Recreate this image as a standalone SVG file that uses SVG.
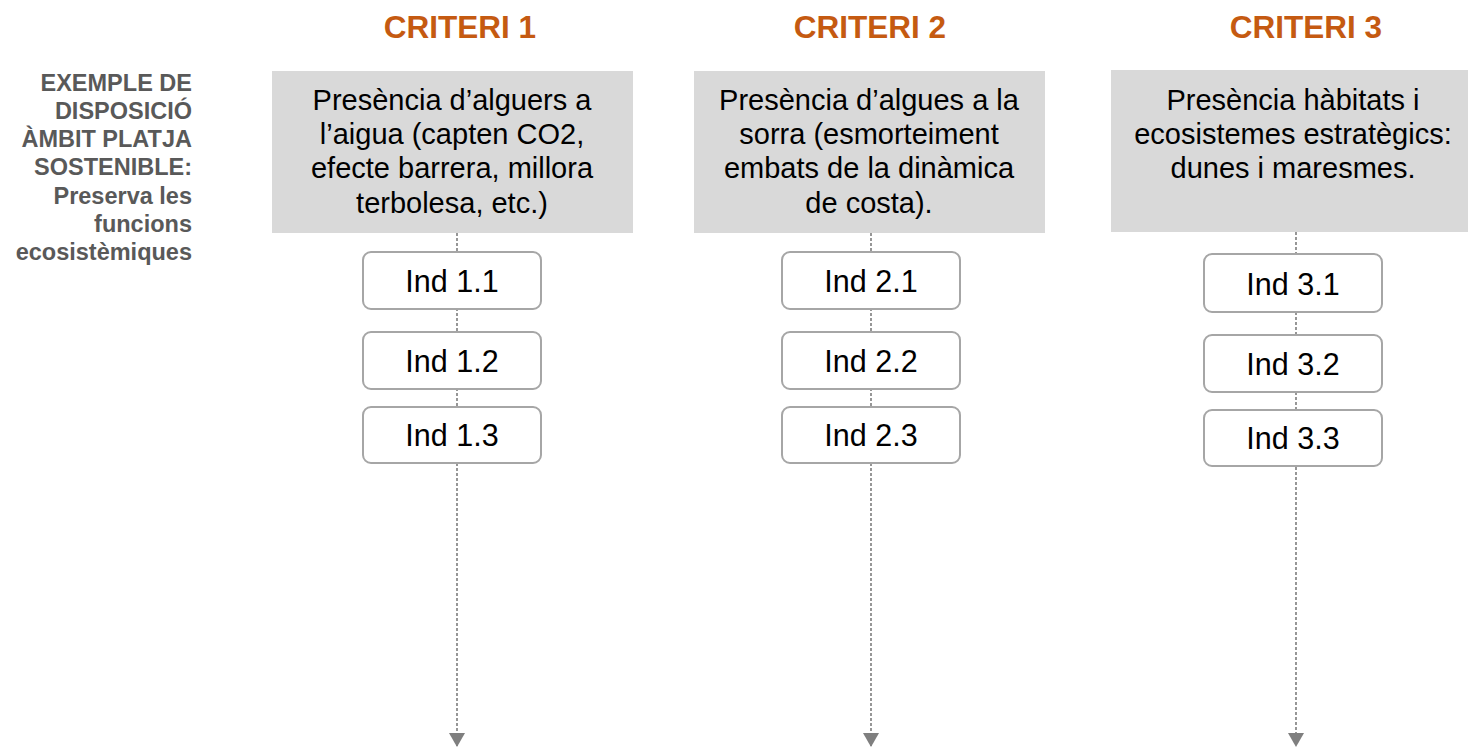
<svg xmlns="http://www.w3.org/2000/svg" width="1468" height="747" viewBox="0 0 1468 747">
<style>
.title{font-family:"Liberation Sans",Arial,sans-serif;font-weight:bold;font-size:31.5px;fill:#C55A11;text-anchor:middle}
.side{font-family:"Liberation Sans",Arial,sans-serif;font-weight:bold;font-size:23.5px;fill:#595959;text-anchor:end}
.crit{fill:#D9D9D9}
.ctext{font-family:"Liberation Sans",Arial,sans-serif;font-size:29px;fill:#000;text-anchor:middle}
.ind{fill:#fff;stroke:#A6A6A6;stroke-width:2}
.itext{font-family:"Liberation Sans",Arial,sans-serif;font-size:30.5px;fill:#000;text-anchor:middle}
.conn{stroke:#8C8C8C;stroke-width:1.8;stroke-dasharray:3 2;fill:none}
</style>
<defs>
<marker id="arr" viewBox="0 0 14 16" refX="14" refY="8" markerWidth="14" markerHeight="16" markerUnits="userSpaceOnUse" orient="auto">
<path d="M0,0 L14,8 L0,16 z" fill="#7F7F7F"/>
</marker>
</defs>
<g id="titles">
<text class="title" x="460" y="38">CRITERI 1</text>
<text class="title" x="870" y="38">CRITERI 2</text>
<text class="title" x="1306" y="38">CRITERI 3</text>
</g>
<g id="side-label">
<text class="side" x="192"><tspan x="192" y="91">EXEMPLE DE</tspan><tspan x="192" y="119">DISPOSICIÓ</tspan><tspan x="192" y="147">ÀMBIT PLATJA</tspan><tspan x="192" y="175">SOSTENIBLE:</tspan><tspan x="192" y="204">Preserva les</tspan><tspan x="192" y="232">funcions</tspan><tspan x="192" y="260">ecosistèmiques</tspan></text>
</g>
<g id="connectors">
<line class="conn" x1="457" y1="233" x2="457" y2="747" marker-end="url(#arr)"/>
<line class="conn" x1="871" y1="233" x2="871" y2="747" marker-end="url(#arr)"/>
<line class="conn" x1="1296" y1="232" x2="1296" y2="747" marker-end="url(#arr)"/>
</g>
<g id="criteri1">
<rect class="crit" x="272" y="71" width="361" height="162"/>
<text class="ctext"><tspan x="452" y="110">Presència d’alguers a</tspan><tspan x="452" y="144">l’aigua (capten CO2,</tspan><tspan x="452" y="178">efecte barrera, millora</tspan><tspan x="452" y="213">terbolesa, etc.)</tspan></text>
</g>
<g id="criteri2">
<rect class="crit" x="694" y="71" width="351" height="162"/>
<text class="ctext"><tspan x="869" y="110">Presència d’algues a la</tspan><tspan x="869" y="144">sorra (esmorteiment</tspan><tspan x="869" y="178">embats de la dinàmica</tspan><tspan x="869" y="213">de costa).</tspan></text>
</g>
<g id="criteri3">
<rect class="crit" x="1111" y="70" width="357" height="162"/>
<text class="ctext"><tspan x="1293" y="110">Presència hàbitats i</tspan><tspan x="1293" y="144">ecosistemes estratègics:</tspan><tspan x="1293" y="178">dunes i maresmes.</tspan></text>
</g>
<g id="ind11"><rect class="ind" x="363" y="252" width="178" height="57" rx="8"/><text class="itext" x="452" y="292">Ind 1.1</text></g>
<g id="ind12"><rect class="ind" x="363" y="332" width="178" height="57" rx="8"/><text class="itext" x="452" y="372">Ind 1.2</text></g>
<g id="ind13"><rect class="ind" x="363" y="407" width="178" height="56" rx="8"/><text class="itext" x="452" y="446">Ind 1.3</text></g>
<g id="ind21"><rect class="ind" x="782" y="252" width="178" height="57" rx="8"/><text class="itext" x="871" y="292">Ind 2.1</text></g>
<g id="ind22"><rect class="ind" x="782" y="332" width="178" height="57" rx="8"/><text class="itext" x="871" y="372">Ind 2.2</text></g>
<g id="ind23"><rect class="ind" x="782" y="407" width="178" height="56" rx="8"/><text class="itext" x="871" y="446">Ind 2.3</text></g>
<g id="ind31"><rect class="ind" x="1204" y="254" width="178" height="58" rx="8"/><text class="itext" x="1293" y="295">Ind 3.1</text></g>
<g id="ind32"><rect class="ind" x="1204" y="335" width="178" height="57" rx="8"/><text class="itext" x="1293" y="375">Ind 3.2</text></g>
<g id="ind33"><rect class="ind" x="1204" y="410" width="178" height="56" rx="8"/><text class="itext" x="1293" y="449">Ind 3.3</text></g>
</svg>
